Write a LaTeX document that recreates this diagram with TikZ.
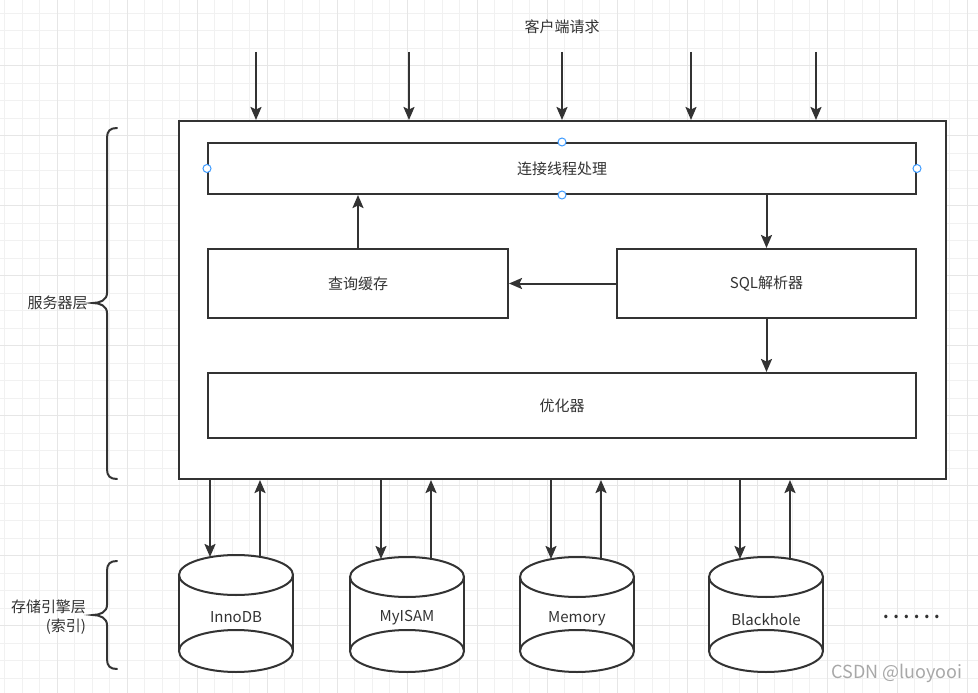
\documentclass[tikz,border=0pt]{standalone}
\usepackage{fontspec}
\setmainfont{Noto Sans CJK SC}
\usetikzlibrary{arrows.meta}
\definecolor{ink}{HTML}{333333}
\definecolor{gridminor}{HTML}{F1F1F1}
\definecolor{gridmajor}{HTML}{E6E6E6}
\definecolor{handlecol}{HTML}{3D9BFF}
\definecolor{wm}{HTML}{A8A8A8}
\begin{document}
\begin{tikzpicture}[x=1pt,y=-1pt,
  line width=2pt, draw=ink, text=ink,
  lbl/.style={font=\fontsize{15}{18}\selectfont, text=ink},
  box/.style={draw=ink, line width=2pt, fill=white, rectangle, inner sep=0pt, lbl},
  arr/.style={draw=ink, line width=2pt, -{Stealth[length=13pt,width=11pt,inset=2.5pt]}},
  bracepath/.style={draw=ink, line width=2pt, line cap=round},
  handle/.style={draw=handlecol, line width=1pt, fill=white},
  cylpart/.style={draw=ink, line width=2pt, fill=white}]
\useasboundingbox (0,0) rectangle (978,693);
\fill[white] (0,0) rectangle (978,693);
% grid
\foreach \x in {4.8,22.3,...,978} \draw[gridminor, line width=1pt] (\x,0) -- (\x,693);
\foreach \y in {13.2,30.7,...,693} \draw[gridminor, line width=1pt] (0,\y) -- (978,\y);
\foreach \x in {57.3,127.3,...,978} \draw[gridmajor, line width=1pt] (\x,0) -- (\x,693);
\foreach \y in {65.7,135.7,...,693} \draw[gridmajor, line width=1pt] (0,\y) -- (978,\y);

% top label and arrows
\node[lbl] (client) at (562,27) {客户端请求};
\node[box, minimum width=767pt, minimum height=358pt] (outer) at (562.5,300) {};
\foreach \i/\x in {1/256,2/409,3/562,4/691,5/816}{
  \coordinate (t\i) at (\x,52);
  \draw[arr] (t\i) -- (t\i |- outer.north);
}

% inner boxes
\node[box, minimum width=708pt, minimum height=51pt] (conn) at (562,168.5) {连接线程处理};
\node[box, minimum width=300pt, minimum height=69pt] (cache) at (358,283.5) {查询缓存};
\node[box, minimum width=299pt, minimum height=69pt] (sql) at (766.5,283.5) {SQL解析器};
\node[box, minimum width=708pt, minimum height=65pt] (opt) at (562,405.5) {优化器};

\draw[arr] (cache.north) -- (conn.south -| cache.north);
\draw[arr] (conn.south -| sql.north) -- (sql.north);
\draw[arr] (sql.west) -- (cache.east);
\draw[arr] (sql.south) -- (opt.north -| sql.south);

% selection handles
\foreach \p in {conn.north, conn.south, conn.west, conn.east}
  \draw[handle] (\p) circle[radius=4];

% braces
\draw[bracepath] (117,128) .. controls (110,128) and (107,131) .. (107,138) -- (107,293)
  .. controls (107,300) and (100,303) .. (93,303) .. controls (100,303) and (107,306) .. (107,313)
  -- (107,469) .. controls (107,476) and (110,479) .. (117,479);
\node[lbl] (server) at (57.5,303) {服务器层};
\draw[bracepath] (117,561) .. controls (110,561) and (107,564) .. (107,571) -- (107,605)
  .. controls (107,612) and (100,615) .. (93,615) .. controls (100,615) and (107,618) .. (107,625)
  -- (107,659) .. controls (107,666) and (110,669) .. (117,669);
\node[lbl, align=right, anchor=east, inner sep=0pt, font=\fontsize{15}{19.5}\selectfont] (storage) at (87,617) {存储引擎层\\(索引)};

% cylinders
\foreach \n/\cx/\tp/\lab/\ly in {inno/236/555/InnoDB/617, myisam/407/557/MyISAM/618, mem/577/557/Memory/619, black/766/557/Blackhole/620}{
  \fill[white] ({\cx-57},{\tp+20}) rectangle ({\cx+57},651);
  \draw[cylpart] (\cx,651) ellipse[x radius=57, y radius=21];
  \draw[ink, line width=2pt] ({\cx-57},{\tp+20}) -- ({\cx-57},651);
  \draw[ink, line width=2pt] ({\cx+57},{\tp+20}) -- ({\cx+57},651);
  \draw[cylpart] (\cx,{\tp+20}) ellipse[x radius=57, y radius=20];
  \node[lbl] (\n) at (\cx,\ly) {\lab};
  \coordinate (\n-in) at ({\cx-26},{\tp+2});
  \coordinate (\n-out) at ({\cx+24},{\tp+2});
  \draw[arr] (outer.south -| \n-in) -- (\n-in);
  \draw[arr] (\n-out) -- (outer.south -| \n-out);
}

\node[anchor=base, font=\fontsize{16}{18}\bfseries\selectfont, text=ink, inner sep=0pt] (more) at (911.5,618) {.\kern4.6pt.\kern4.6pt.\kern4.6pt.\kern4.6pt.\kern4.6pt.};
\node[font=\fontsize{18}{20}\selectfont, text=wm, inner sep=0pt] (wmark) at (897,673) {CSDN @luoyooi};
\end{tikzpicture}
\end{document}
